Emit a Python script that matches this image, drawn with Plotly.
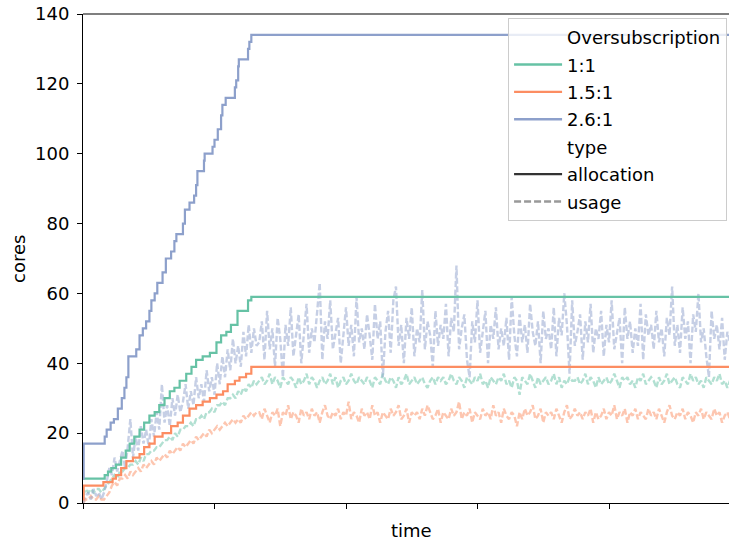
import plotly.graph_objects as go

# ---------------- data ----------------
series_names = ["1:1", "1.5:1", "2.6:1"]
series_colors = ["#66c2a5", "#fc8d62", "#8da0cb"]

# allocation step functions (time, cores)
alloc_t_1 = [0, 33, 38, 43, 50, 58, 65, 71, 78, 86, 93, 101, 109, 116, 124, 132, 139, 147,
             157, 165, 172, 182, 193, 203, 210, 218, 225, 235, 251, 256, 985]
alloc_v_1 = [7, 8, 9, 10, 11, 13, 15, 17, 19, 21, 23, 25, 26, 28, 30, 32, 33, 35,
             37, 39, 41, 42, 43, 46, 48, 49, 51, 55, 58, 59, 59]

alloc_t_15 = [0, 1, 31, 45, 50, 58, 66, 76, 86, 93, 101, 109, 121, 134, 144, 152, 162, 172,
              182, 193, 203, 213, 220, 231, 238, 248, 256, 985]
alloc_v_15 = [1, 5, 6, 7, 8, 10, 12, 13, 14, 16, 17, 19, 20, 22, 23, 25, 27, 28,
              29, 30, 31, 32, 34, 35, 36, 37, 39, 39]

alloc_t_26 = [0, 1, 33, 36, 42, 47, 53, 59, 63, 66, 69, 81, 86, 91, 96, 101, 104, 109, 113,
              121, 126, 134, 139, 142, 152, 155, 162, 169, 172, 174, 184, 185, 197, 200, 205,
              210, 212, 217, 231, 233, 236, 237, 251, 253, 256, 985]
alloc_v_26 = [7, 17, 19, 21, 23, 24, 27, 30, 33, 36, 42, 44, 48, 50, 52, 55, 58, 60, 63,
              66, 70, 72, 75, 77, 80, 84, 86, 88, 91, 95, 98, 100, 102, 104, 107,
              111, 114, 116, 119, 121, 125, 127, 130, 132, 134, 134]

# usage samples, one every 4 time units (t = 0, 4, ..., 984)
usage_t = list(range(0, 985, 4))

usage_1 = [2, 4, 3, 4, 3, 4, 4, 3, 4,
           5, 6, 7, 8, 7, 9, 9, 10, 10, 11,
           11, 12, 11, 13, 12, 14, 14, 15, 15, 16,
           16, 17, 18, 18, 19, 18, 20, 19, 21, 21,
           22, 22, 23, 22, 24, 24, 25, 24, 26, 26,
           27, 26, 28, 28, 29, 28, 30, 30, 31, 30,
           32, 31, 33, 32, 34, 33, 35, 34,
           35, 36, 34, 35, 37, 34, 36, 35, 33, 36,
           35, 34, 36, 35, 33, 36, 34, 35, 37, 34,
           36, 35, 33, 35, 36, 34, 35, 37, 34, 36,
           33, 35, 36, 34, 35, 37, 35, 34, 36, 35,
           34, 36, 35, 33, 36, 35, 34, 37, 35, 34,
           36, 35, 33, 36, 34, 35, 37, 34, 35, 36,
           34, 35, 36, 34, 33, 35, 36, 34, 36, 35,
           36, 34, 35, 37, 35, 34, 36, 35, 33, 36,
           35, 34, 36, 35, 37, 34, 35, 33, 36, 35,
           34, 36, 35, 37, 34, 35, 33, 36, 35, 31,
           36, 35, 34, 37, 35, 33, 36, 34, 35, 36,
           34, 35, 37, 34, 36, 33, 35, 34, 36, 35,
           35, 36, 34, 35, 37, 34, 36, 35, 33, 36,
           34, 35, 36, 34, 35, 37, 35, 33, 36, 35,
           36, 34, 35, 33, 36, 35, 37, 34, 35, 36,
           35, 33, 36, 34, 35, 37, 34, 35, 36, 34,
           33, 36, 35, 34, 37, 35, 36, 34, 35, 33,
           36, 35, 34, 36, 35, 37, 34, 35, 33, 35]

usage_15 = [0, 1, 1, 2, 1, 1, 2, 1, 1,
            2, 3, 5, 6, 5, 7, 7, 8, 7, 9,
            8, 9, 10, 9, 11, 10, 11, 12, 11, 13,
            12, 13, 14, 13, 15, 14, 15, 16, 15, 17,
            16, 17, 18, 17, 19, 18, 19, 20, 19, 21,
            20, 21, 22, 21, 22, 23, 22, 23, 24, 23,
            24, 23, 25, 24, 25, 26, 25, 26,
            26, 24, 27, 25, 23, 26, 25, 27, 22, 26,
            25, 28, 24, 26, 25, 23, 27, 25, 26, 24,
            27, 25, 26, 23, 26, 28, 25, 24, 26, 25,
            27, 24, 26, 25, 29, 24, 26, 25, 23, 27,
            25, 26, 24, 28, 25, 26, 23, 26, 25, 24,
            27, 25, 26, 28, 24, 25, 27, 23, 26, 25,
            26, 24, 27, 25, 28, 26, 24, 25, 27, 23,
            26, 25, 24, 27, 25, 26, 29, 24, 26, 25,
            27, 23, 26, 25, 24, 27, 25, 26, 24, 28,
            25, 26, 23, 27, 25, 24, 26, 25, 22, 26,
            24, 27, 25, 26, 28, 24, 25, 27, 23, 26,
            25, 26, 24, 27, 25, 23, 26, 28, 24, 25,
            27, 25, 26, 24, 26, 25, 27, 23, 26, 24,
            25, 27, 24, 26, 25, 28, 24, 26, 25, 27,
            23, 26, 25, 27, 24, 26, 25, 24, 27, 25,
            26, 24, 27, 25, 23, 26, 28, 25, 24, 26,
            25, 27, 24, 26, 25, 23, 26, 25, 27, 24,
            26, 25, 24, 27, 25, 26, 23, 25, 26, 24]

usage_26 = [0, 2, 3, 1, 4, 2, 3, 1, 3,
            6, 10, 8, 13, 9, 12, 15, 10, 16, 24,
            13, 19, 15, 22, 17, 21, 16, 24, 19, 26,
            21, 34, 23, 28, 22, 30, 25, 31, 26, 29,
            34, 27, 32, 28, 36, 30, 34, 29, 38, 32,
            36, 31, 40, 34, 42, 36, 44, 38, 47, 40,
            45, 39, 49, 42, 51, 43, 50, 45,
            46, 52, 41, 55, 44, 50, 39, 53, 47, 36,
            51, 45, 56, 42, 49, 54, 40, 48, 57, 43,
            50, 46, 55, 63, 41, 52, 47, 58, 44, 49,
            53, 40, 48, 56, 45, 51, 42, 59, 46, 50,
            44, 54, 48, 41, 57, 47, 52, 36, 49, 55,
            43, 58, 62, 45, 51, 40, 53, 47, 56, 42,
            50, 46, 61, 44, 52, 48, 39, 55, 45, 51,
            47, 57, 42, 53, 49, 68, 44, 50, 54, 41,
            36, 52, 46, 58, 43, 49, 55, 40, 51, 47,
            56, 44, 50, 45, 53, 41, 59, 48, 42, 54,
            46, 51, 43, 57, 49, 45, 52, 40, 55, 47,
            50, 44, 56, 42, 53, 48, 60, 51, 37, 58,
            45, 49, 54, 41, 52, 46, 57, 43, 50, 47,
            55, 42, 51, 46, 58, 44, 49, 53, 40, 56,
            47, 52, 43, 50, 45, 57, 41, 54, 48, 51,
            44, 55, 46, 50, 42, 53, 48, 62, 45, 51,
            43, 56, 47, 52, 40, 54, 49, 60, 46, 50,
            42, 36, 55, 47, 51, 44, 53, 41, 49, 46]

x_ticks = [0, 200, 400, 600, 800]
y_ticks = [0, 20, 40, 60, 80, 100, 120, 140]

# ---------------- figure ----------------
FONT = "DejaVu Sans"
FS = 18
fig = go.Figure()

usage_list = [usage_1, usage_15, usage_26]
alloc_list = [(alloc_t_1, alloc_v_1), (alloc_t_15, alloc_v_15), (alloc_t_26, alloc_v_26)]

def rgba(hexc, a):
    h = hexc.lstrip("#")
    return "rgba(%d,%d,%d,%s)" % (int(h[0:2], 16), int(h[2:4], 16), int(h[4:6], 16), a)

for name, col, u in zip(series_names, series_colors, usage_list):
    fig.add_trace(go.Scatter(x=usage_t[:len(u)], y=u, mode="lines", showlegend=False,
                             line=dict(color=rgba(col, 0.5), width=2.4, dash="6px,2.5px"),
                             hoverinfo="skip"))
for name, col, (t, v) in zip(series_names, series_colors, alloc_list):
    fig.add_trace(go.Scatter(x=t, y=v, mode="lines", showlegend=False, line_shape="hv",
                             line=dict(color=col, width=2.2), hoverinfo="skip"))

# legend entries
blank = dict(color="rgba(0,0,0,0)", width=0)
legend_items = [("Oversubscription", blank),
                ("1:1", dict(color=series_colors[0], width=2.4)),
                ("1.5:1", dict(color=series_colors[1], width=2.4)),
                ("2.6:1", dict(color=series_colors[2], width=2.4)),
                ("type", blank),
                ("allocation", dict(color="#333333", width=2.4)),
                ("usage", dict(color="#999999", width=2.4, dash="7px,3px"))]
for i, (lbl, ln) in enumerate(legend_items):
    fig.add_trace(go.Scatter(x=[None], y=[None], mode="lines", name=lbl, line=ln,
                             legendgroup="g%d" % i, showlegend=True))

fig.add_shape(type="line", xref="paper", yref="paper", x0=0, x1=1, y0=1, y1=1,
              line=dict(color="black", width=1.1))

fig.add_annotation(text="time", xref="paper", yref="paper", x=0.509, y=-0.057,
                   xanchor="center", yanchor="middle", showarrow=False,
                   font=dict(family=FONT, size=FS, color="black"))
fig.add_annotation(text="cores", xref="paper", yref="paper", x=-0.1, y=0.5,
                   xanchor="center", yanchor="middle", showarrow=False, textangle=-90,
                   font=dict(family=FONT, size=FS, color="black"))

fig.update_layout(
    width=729, height=543,
    margin=dict(l=83, r=0, t=14, b=40),
    paper_bgcolor="white", plot_bgcolor="white",
    font=dict(family=FONT, size=FS, color="black"),
    showlegend=True,
    legend=dict(x=0.658, y=0.992, xanchor="left", yanchor="top",
                bgcolor="rgba(255,255,255,0.8)", bordercolor="#cccccc", borderwidth=1,
                font=dict(family=FONT, size=FS), itemwidth=48,
                traceorder="grouped", tracegroupgap=1),
    xaxis=dict(range=[0, 982.5], tickvals=x_ticks, ticktext=[""] * len(x_ticks),
               ticks="outside", ticklen=5, tickwidth=1.1, tickcolor="black",
               showline=True, linecolor="black", linewidth=1.1, showgrid=False, zeroline=False),
    yaxis=dict(range=[0, 140], tickvals=y_ticks, ticks="outside", ticklen=5, tickwidth=1.1,
               tickcolor="black", showline=True, linecolor="black", linewidth=1.1,
               showgrid=False, zeroline=False, ticklabelstandoff=4),
)

fig.write_html("out.html")
